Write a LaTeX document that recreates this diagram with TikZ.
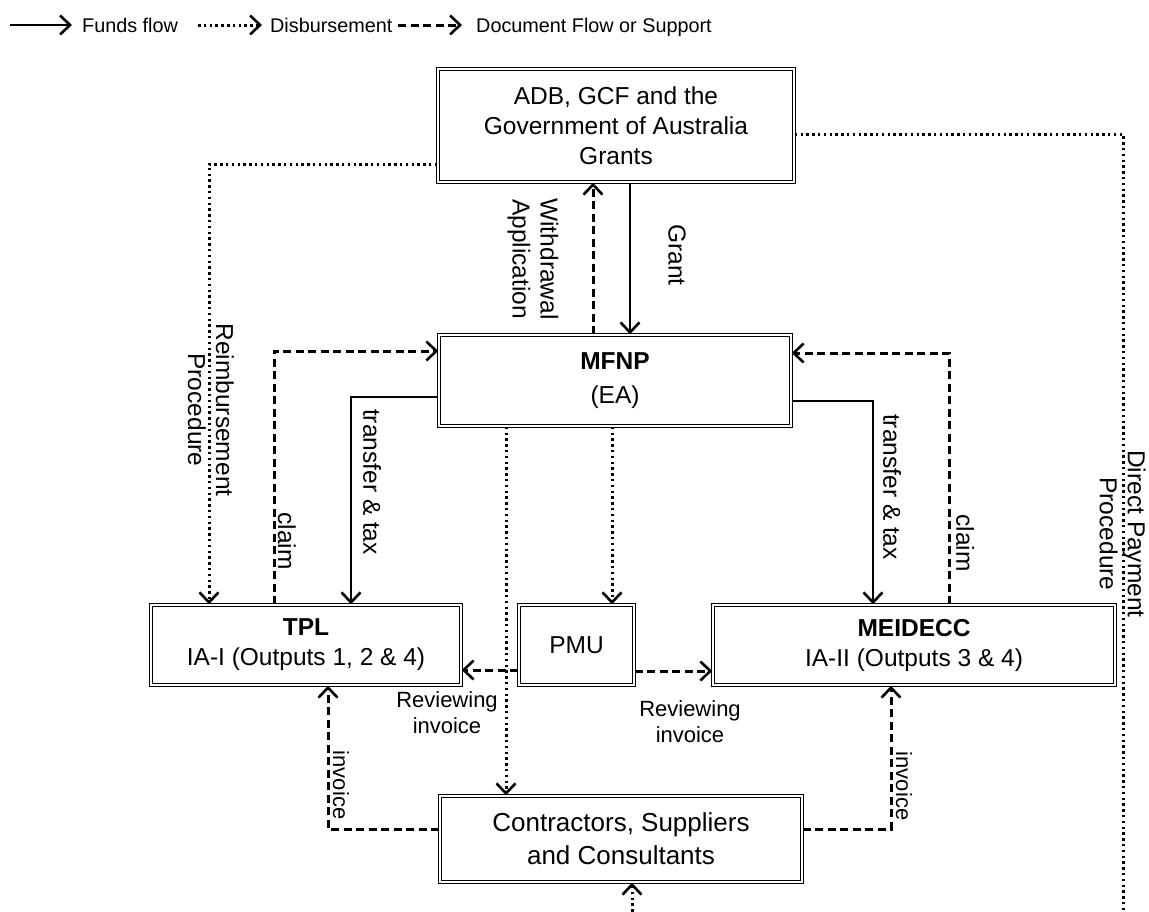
\documentclass[tikz,border=0pt]{standalone}
\usepackage{fontspec}
\setmainfont{Liberation Sans}
\usetikzlibrary{arrows.meta}
\begin{document}
\begin{tikzpicture}[x=1pt,y=-1pt,
  box/.style={draw, double, double distance=1.8pt, line width=1.5pt, align=center, inner sep=0pt, font=\fontsize{24.5}{30}\selectfont},
  chev/.style={-{Straight Barb[length=10pt,width=19pt,line width=2.6pt]}},
  fund/.style={line width=2.8pt, chev},
  disb/.style={line width=3pt, dash pattern=on 2.5pt off 3.3pt, chev},
  doc/.style={line width=3pt, dash pattern=on 8pt off 4.5pt, chev},
  lbl/.style={font=\fontsize{24.5}{28}\selectfont, align=center, inner sep=0pt},
  vlbl/.style={lbl, rotate=-90},
  slbl/.style={lbl, font=\fontsize{22}{26}\selectfont},
  leg/.style={font=\fontsize{19.8}{22}\selectfont, anchor=base west, inner sep=0pt}
]
\path[use as bounding box, fill=white] (0,0) rectangle (1149,911);

% legend
\coordinate (l1a) at (10,25); \coordinate (l1b) at (72,25);
\coordinate (l2a) at (198,25); \coordinate (l2b) at (262,25);
\coordinate (l3a) at (398,25); \coordinate (l3b) at (462,25);
\draw[fund] (l1a) -- (l1b);
\draw[disb] (l2a) -- (l2b);
\draw[doc] (l3a) -- (l3b);
\node[leg] (l1t) at (82,32) {Funds flow};
\node[leg] (l2t) at (270,32) {Disbursement};
\node[leg] (l3t) at (476,32) {Document Flow or Support};

% boxes
\node[box, minimum width=356pt, minimum height=113pt] (top) at (616,125.5) {ADB, GCF and the\\Government of Australia\\Grants};
\node[box, minimum width=352pt, minimum height=91pt] (ea) at (615,380.5) {\textbf{MFNP}\\[4pt](EA)};
\node[box, minimum width=310pt, minimum height=80pt] (tpl) at (306,645) {\textbf{TPL}\\IA-I (Outputs 1, 2 \& 4)};
\node[box, minimum width=115pt, minimum height=80pt] (pmu) at (576.5,645) {PMU};
\node[box, minimum width=402pt, minimum height=80pt] (mei) at (914,645) {\textbf{MEIDECC}\\IA-II (Outputs 3 \& 4)};
\node[box, minimum width=362pt, minimum height=86pt, font=\fontsize{26}{33}\selectfont] (csc) at (621,839) {Contractors, Suppliers\\and Consultants};

% guide coordinates
\coordinate (xw) at (593,0); \coordinate (xg) at (630,0);
\coordinate (yr) at (0,164); \coordinate (xr) at (209,0);
\coordinate (xcl) at (274,0); \coordinate (ycl) at (0,351);
\coordinate (ytl) at (0,397); \coordinate (xtl) at (351,0);
\coordinate (xcr) at (949,0); \coordinate (ycr) at (0,353);
\coordinate (ytr) at (0,401); \coordinate (xtr) at (873,0);
\coordinate (yd) at (0,134); \coordinate (xb) at (632,0);
\coordinate (dbot) at (1123,960);
\coordinate (xdl) at (506,0); \coordinate (xpm) at (612,0);
\coordinate (yrv) at (0,670); \coordinate (yrv2) at (0,671);
\coordinate (yinv) at (0,829);
\coordinate (xil) at (328,0); \coordinate (xir) at (891,0);

% connectors
\draw[fund] (top.south -| xg) -- (ea.north -| xg);
\draw[doc] (ea.north -| xw) -- (top.south -| xw);
\draw[disb] (top.west |- yr) -| (tpl.north -| xr);
\draw[doc] (tpl.north -| xcl) |- (ea.west |- ycl);
\draw[fund] (ea.west |- ytl) -| (tpl.north -| xtl);
\draw[doc] (mei.north -| xcr) |- (ea.east |- ycr);
\draw[fund] (ea.east |- ytr) -| (mei.north -| xtr);
\begin{scope}
\clip (0,0) rectangle (1149,911);
\draw[disb] (top.east |- yd) -| (dbot) -| (csc.south -| xb);
\end{scope}
\draw[disb] (ea.south -| xdl) -- (csc.north -| xdl);
\draw[disb] (ea.south -| xpm) -- (pmu.north -| xpm);
\draw[doc] (pmu.west |- yrv) -- (tpl.east |- yrv);
\draw[doc] (pmu.east |- yrv2) -- (mei.west |- yrv2);
\draw[doc] (csc.west |- yinv) -| (tpl.south -| xil);
\draw[doc] (csc.east |- yinv) -| (mei.south -| xir);

% labels
\node[vlbl] (lw) at (533,259) {Withdrawal\\Application};
\node[vlbl] (lg) at (677,255) {Grant};
\node[vlbl] (lr) at (211,410) {Reimbursement\\Procedure};
\node[vlbl] (lc1) at (287,541) {claim};
\node[vlbl] (lt1) at (372,482) {transfer \& tax};
\node[vlbl] (lt2) at (892,487) {transfer \& tax};
\node[vlbl] (lc2) at (965,543) {claim};
\node[vlbl] (ld) at (1122.5,534) {Direct Payment\\Procedure};
\node[slbl] (lrv1) at (447,713) {Reviewing\\invoice};
\node[slbl] (lrv2) at (690,722) {Reviewing\\invoice};
\node[slbl, rotate=-90] (li1) at (341,785) {invoice};
\node[slbl, rotate=-90] (li2) at (904,786) {invoice};
\end{tikzpicture}
\end{document}
